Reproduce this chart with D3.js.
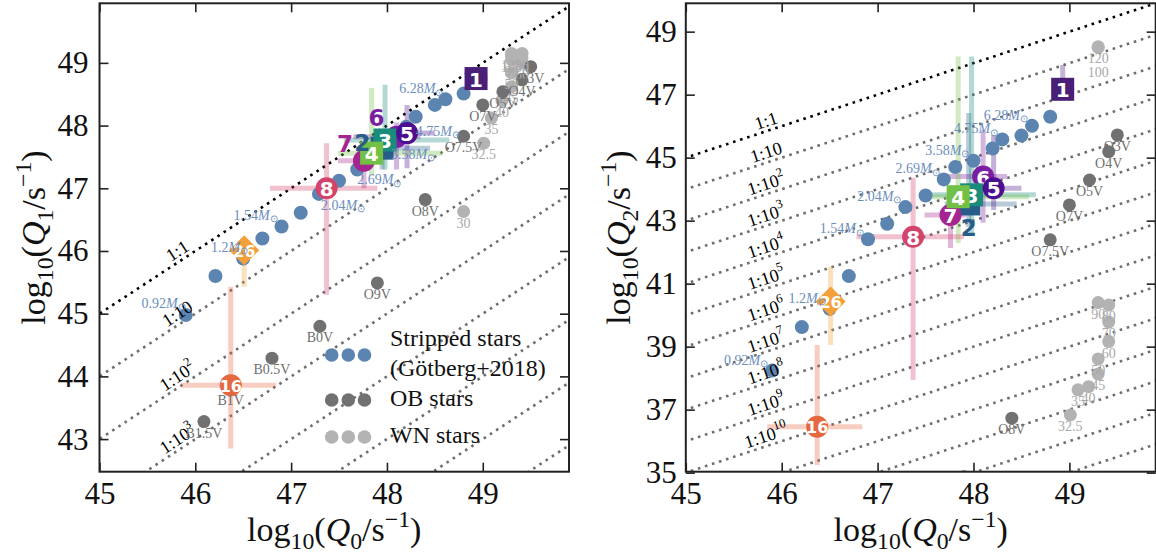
<!DOCTYPE html>
<html>
<head>
<meta charset="utf-8">
<script src="https://cdn.jsdelivr.net/npm/d3@7"></script>
<style>
  body { margin: 0; background: #fff; }
  svg { display: block; }
</style>
</head>
<body>
<svg id="chart" width="1156" height="557"></svg>
<script>
// ---------------- data ----------------
// Stripped-star model grid (Götberg+2018): log10 Q0, Q1, Q2 [s^-1]
const strippedQ0 = [45.90, 46.21, 46.50, 46.70, 46.90, 47.10, 47.29, 47.50, 47.69, 47.81, 48.00, 48.20, 48.30, 48.50, 48.61, 48.80];
const strippedQ1 = [44.98, 45.60, 45.88, 46.20, 46.39, 46.61, 46.91, 47.12, 47.30, 47.48, 47.72, 47.98, 48.14, 48.33, 48.42, 48.51];
const strippedQ2 = [38.24, 39.62, 40.20, 41.24, 42.41, 42.90, 43.43, 43.80, 44.31, 44.70, 44.90, 45.29, 45.58, 45.70, 46.01, 46.30];
const strippedMass = ["0.92", null, "1.2", null, "1.54", null, "2.04", null, "2.69", null, "3.58", null, "4.75", null, "6.28", null];

// OB main-sequence stars
const obTypes = ["O3V", "O4V", "O5V", "O7V", "O7.5V", "O8V", "O9V", "B0V", "B0.5V", "B1V", "B1.5V"];
const obQ0 = [49.50, 49.41, 49.21, 49.00, 48.80, 48.40, 47.90, 47.30, 46.80, 46.37, 46.09];
const obQ1 = [48.94, 48.73, 48.54, 48.33, 47.83, 46.82, 45.49, 44.80, 44.29, 43.80, 43.28];
const obQ2 = [45.72, 45.19, 44.29, 43.50, 42.39, 36.73, 34.87, null, null, null, null];

// WN stars, labelled by mass
const wnNames = ["120", "100", "90", "80", "70", "60", "50", "45", "40", "35", "32.5", "30"];
const wnQ0 = [49.30, 49.30, 49.30, 49.41, 49.41, 49.41, 49.30, 49.30, 49.20, 49.09, 49.01, 48.80];
const wnQ1 = [49.15, 49.12, 49.05, 49.15, 49.08, 49.00, 48.84, 48.62, 48.40, 48.12, 47.72, 46.63];
const wnQ2 = [48.52, 48.50, 40.40, 40.32, 39.78, 39.16, 38.61, 38.13, 37.73, 37.63, 36.83, null];

// Observed stripped-star candidates with uncertainties
const starIds  = ["1", "2", "3", "4", "5", "6", "7", "8", "16", "26"];
const starQ0   = [48.93, 47.95, 47.98, 47.84, 48.21, 48.10, 47.76, 47.37, 46.37, 46.51];
const starQ0lo = [48.82, 47.70, 47.55, 47.49, 47.95, 47.65, 47.49, 46.78, 45.85, null];
const starQ0hi = [49.05, 48.45, 48.65, 48.58, 48.50, 48.35, 47.92, 47.90, 46.84, null];
const starQ1   = [48.75, 47.64, 47.77, 47.56, 47.88, 47.82, 47.44, 47.00, 43.86, 46.01];
const starQ1lo = [48.62, 47.30, 47.30, 47.20, 47.32, 47.30, 47.00, 45.30, 42.85, 45.43];
const starQ1hi = [48.88, 47.90, 48.65, 48.60, 48.33, 48.05, 47.62, 47.72, 45.43, 46.10];
const starQ2   = [47.17, 43.53, 43.82, 43.76, 44.03, 44.40, 43.18, 42.49, 36.46, 40.43];
const starQ2lo = [46.83, 42.80, 42.60, 42.29, 43.34, 42.93, 42.13, 37.94, 35.24, 39.05];
const starQ2hi = [47.94, 46.42, 48.21, 48.21, 45.72, 45.88, 43.66, 44.36, 39.05, 41.54];

// Ratio lines Q_n : Q0 = 1 : 10^k
const ratioExponents = d3.range(0, 16);
const ratioLabelsLeft = [0, 1, 2, 3];
const ratioLabelsRight = [0, 1, 2, 3, 4, 5, 6, 7, 8, 9, 10];

const xTicks = [45, 46, 47, 48, 49];
const yTicksLeft = [43, 44, 45, 46, 47, 48, 49];
const yTicksRight = [35, 37, 39, 41, 43, 45, 47, 49];

const legendLabels = [["Stripped stars", "(Götberg+2018)"], ["OB stars"], ["WN stars"]];

// ---------------- styles ----------------
const serif = '"Liberation Serif", "Times New Roman", serif';
const sans = '"DejaVu Sans", sans-serif';
const blue = "#5b84b1", blueText = "#6a8ebe";
const obGrey = "#717171", wnGrey = "#b3b3b3";
const starColor = ["#4a1f78", "#285d8a", "#1a8c7c", "#72c046", "#4c0f90", "#7a1fa2", "#a6248f", "#d4436b", "#e5683f", "#f3a03a"];
const starShape = ["square", "square", "square", "square", "circle", "circle", "circle", "circle", "circle", "diamond"];

const svg = d3.select("#chart");

// text with sub/superscripts and italics
function rich(sel, parts, size) {
  let cur = 0;
  parts.forEach(p => {
    const target = p.s === "sub" ? 0.24 * size : p.s === "sup" ? -0.42 * size : 0;
    const ts = sel.append("tspan").text(p.t)
      .attr("dy", (target - cur).toFixed(2))
      .style("font-size", (p.s ? 0.7 * size : size) + "px");
    if (p.i) ts.style("font-style", "italic");
    cur = target;
  });
}

function drawPanel(cfg) {
  const x = d3.scaleLinear().domain(cfg.xDomain).range(cfg.xRange);
  const y = d3.scaleLinear().domain(cfg.yDomain).range(cfg.yRange);
  const g = svg.append("g");
  const clipId = "clip-" + cfg.id;
  svg.append("clipPath").attr("id", clipId).append("rect")
    .attr("x", cfg.xRange[0]).attr("y", cfg.yRange[1])
    .attr("width", cfg.xRange[1] - cfg.xRange[0])
    .attr("height", cfg.yRange[0] - cfg.yRange[1]);
  const plot = g.append("g").attr("clip-path", `url(#${clipId})`);

  // ratio lines
  const line = d3.line().x(d => x(d[0])).y(d => y(d[1]));
  ratioExponents.forEach(k => {
    plot.append("path")
      .attr("d", line([[43, 43 - k], [52, 52 - k]]))
      .attr("fill", "none")
      .attr("stroke", k === 0 ? "#000" : "#6e6e6e")
      .attr("stroke-width", 2.6)
      .attr("stroke-dasharray", "2.6 4.8");
  });
  const angle = Math.atan((y(45) - y(46)) / (x(46) - x(45))) * 180 / Math.PI;
  cfg.ratioLabels.forEach(k => {
    const q0 = 45.87;
    const t = g.append("text")
      .attr("transform", `translate(${x(q0)},${y(q0 - k)}) rotate(${-angle})`)
      .attr("y", -8)
      .attr("text-anchor", "middle")
      .attr("dominant-baseline", "middle")
      .style("font-family", serif).style("fill", "#000");
    if (k === 0) rich(t, [{ t: "1:1" }], 18);
    else if (k === 1) rich(t, [{ t: "1:10" }], 18);
    else rich(t, [{ t: "1:10" }, { t: String(k), s: "sup" }], 18);
  });

  const sQ = cfg.yKey === "Q1" ? strippedQ1 : strippedQ2;
  const oQ = cfg.yKey === "Q1" ? obQ1 : obQ2;
  const wQ = cfg.yKey === "Q1" ? wnQ1 : wnQ2;
  const tQ = cfg.yKey === "Q1" ? starQ1 : starQ2;
  const tLo = cfg.yKey === "Q1" ? starQ1lo : starQ2lo;
  const tHi = cfg.yKey === "Q1" ? starQ1hi : starQ2hi;

  // error bars
  const errOrder = [1, 6, 5, 4, 2, 3, 0, 7, 8, 9];
  errOrder.forEach(i => {
    const c = starColor[i];
    if (starQ0lo[i] !== null) {
      plot.append("line")
        .attr("x1", x(starQ0lo[i])).attr("x2", x(starQ0hi[i]))
        .attr("y1", y(tQ[i])).attr("y2", y(tQ[i]))
        .attr("stroke", c).attr("stroke-opacity", 0.33).attr("stroke-width", 5);
    }
    if (tLo[i] !== null) {
      plot.append("line")
        .attr("x1", x(starQ0[i])).attr("x2", x(starQ0[i]))
        .attr("y1", y(tLo[i])).attr("y2", y(tHi[i]))
        .attr("stroke", c).attr("stroke-opacity", 0.33).attr("stroke-width", 5);
    }
  });

  // stripped-star models
  plot.selectAll(null).data(strippedQ0).join("circle")
    .attr("cx", d => x(d)).attr("cy", (d, i) => y(sQ[i]))
    .attr("r", 7).attr("fill", blue);

  strippedQ0.forEach((q0, i) => {
    if (!strippedMass[i]) return;
    const o = cfg.massOffsets[i];
    const t = g.append("text")
      .attr("x", x(q0) + o[1]).attr("y", y(sQ[i]) + o[2])
      .attr("text-anchor", o[0])
      .attr("dominant-baseline", "middle")
      .style("font-family", serif).style("fill", blueText);
    rich(t, [{ t: strippedMass[i] }, { t: "M", i: true }, { t: "⊙", s: "sub" }], 14);
  });

  // WN stars: points then labels
  wnQ0.forEach((q0, i) => {
    if (wQ[i] === null) return;
    plot.append("circle").attr("cx", x(q0)).attr("cy", y(wQ[i])).attr("r", 6.5).attr("fill", wnGrey);
  });
  wnQ0.forEach((q0, i) => {
    if (wQ[i] === null) return;
    g.append("text").attr("x", x(q0)).attr("y", y(wQ[i]) + cfg.wnDy[i])
      .attr("text-anchor", "middle").attr("dominant-baseline", "middle")
      .style("font-family", serif).style("font-size", "14px").style("fill", "#a8a8a8")
      .text(wnNames[i]);
  });

  // OB stars: each point followed by its label
  obQ0.forEach((q0, i) => {
    if (oQ[i] === null) return;
    plot.append("circle").attr("cx", x(q0)).attr("cy", y(oQ[i])).attr("r", 6.5).attr("fill", obGrey);
    if (y(oQ[i]) < cfg.yRange[0] - 5) {
      g.append("text").attr("x", x(q0)).attr("y", y(oQ[i]) + 13)
        .attr("text-anchor", "middle").attr("dominant-baseline", "middle")
        .style("font-family", serif).style("font-size", "14px").style("fill", "#6f6f6f")
        .text(obTypes[i]);
    }
  });

  // observed stars
  const markOrder = [1, 6, 5, 2, 3, 4, 0, 7, 8, 9];
  markOrder.forEach(i => {
    const cx = x(starQ0[i]), cy = y(tQ[i]), c = starColor[i];
    const m = plot.append("g").attr("transform", `translate(${cx},${cy})`);
    if (starShape[i] === "square") {
      m.append("rect").attr("x", -11.5).attr("y", -11.5).attr("width", 23).attr("height", 23).attr("fill", c);
    } else if (starShape[i] === "circle") {
      m.append("circle").attr("r", 11).attr("fill", c);
    } else {
      m.append("path").attr("d", "M0,-15L15,0L0,15L-15,0Z").attr("fill", c);
    }
    const off = cfg.starLabelOffsets[i];
    if (!off) {
      m.append("text").attr("text-anchor", "middle").attr("dominant-baseline", "central")
        .attr("y", 1)
        .style("font-family", sans).style("font-weight", "bold")
        .style("font-size", starIds[i].length > 1 ? "16px" : "20px")
        .style("fill", "#fff").text(starIds[i]);
    }
  });
  markOrder.forEach(i => {
    const off = cfg.starLabelOffsets[i];
    if (!off) return;
    g.append("text")
      .attr("x", x(starQ0[i]) + off[0]).attr("y", y(tQ[i]) + off[1])
      .attr("text-anchor", "middle").attr("dominant-baseline", "central")
      .style("font-family", sans).style("font-weight", "bold").style("font-size", "23px")
      .style("fill", starColor[i]).text(starIds[i]);
  });

  // frame and inward ticks on all sides
  const axStyle = a => {
    a.select(".domain").remove();
    a.selectAll(".tick line").attr("stroke", "#222").attr("stroke-width", 1.6);
    a.selectAll(".tick text").style("font-family", serif).style("font-size", "31px").style("fill", "#111");
  };
  g.append("g").attr("transform", `translate(0,${cfg.yRange[0]})`)
    .call(d3.axisBottom(x).tickValues(xTicks).tickSize(-9).tickPadding(10).tickFormat(d3.format("d"))).call(axStyle);
  g.append("g").attr("transform", `translate(0,${cfg.yRange[1]})`)
    .call(d3.axisTop(x).tickValues(xTicks).tickSize(-9).tickFormat("")).call(axStyle);
  g.append("g").attr("transform", `translate(${cfg.xRange[0]},0)`)
    .call(d3.axisLeft(y).tickValues(cfg.yTicks).tickSize(-9).tickPadding(cfg.yPad).tickFormat(d3.format("d"))).call(axStyle);
  g.append("g").attr("transform", `translate(${cfg.xRange[1]},0)`)
    .call(d3.axisRight(y).tickValues(cfg.yTicks).tickSize(-9).tickFormat("")).call(axStyle);
  g.append("rect")
    .attr("x", cfg.xRange[0]).attr("y", cfg.yRange[1])
    .attr("width", cfg.xRange[1] - cfg.xRange[0]).attr("height", cfg.yRange[0] - cfg.yRange[1])
    .attr("fill", "none").attr("stroke", "#222").attr("stroke-width", 2);

  // axis titles
  const xl = g.append("text")
    .attr("x", (cfg.xRange[0] + cfg.xRange[1]) / 2).attr("y", 541)
    .attr("text-anchor", "middle").style("font-family", serif).style("fill", "#111");
  rich(xl, [{ t: "log" }, { t: "10", s: "sub" }, { t: "(" }, { t: "Q", i: true }, { t: "0", s: "sub" }, { t: "/s" }, { t: "−1", s: "sup" }, { t: ")" }], 34);
  const yl = g.append("text")
    .attr("transform", `translate(${cfg.yTitleX},${(cfg.yRange[0] + cfg.yRange[1]) / 2}) rotate(-90)`)
    .attr("text-anchor", "middle").style("font-family", serif).style("fill", "#111");
  rich(yl, [{ t: "log" }, { t: "10", s: "sub" }, { t: "(" }, { t: "Q", i: true }, { t: cfg.yKey.slice(1), s: "sub" }, { t: "/s" }, { t: "−1", s: "sup" }, { t: ")" }], 34);

  return { g, x, y };
}

// left panel: Q1 vs Q0
const left = drawPanel({
  id: "q1", yKey: "Q1",
  xDomain: [45, 49.9], xRange: [99.5, 569],
  yDomain: [42.48, 49.95], yRange: [471.7, 3.3],
  yTicks: yTicksLeft, yPad: 11, yTitleX: 45,
  ratioLabels: ratioLabelsLeft,
  massOffsets: [["end", 0, -10], null, ["end", 5, -10], null, ["end", -4, -10], null,
                ["start", 2, 13], null, ["start", 0, 12], null, ["start", 4, 13], null,
                ["start", 0, 16], null, ["end", -2, -9], null],
  wnDy: [13, 13, 13, 13, 13, 13, 13, 13, 13, 13, 13, 13],
  starLabelOffsets: [null, [-20, -5.5], null, null, null, [-20, -18.5], [-19, -17], null, null, null]
});

// right panel: Q2 vs Q0
drawPanel({
  id: "q2", yKey: "Q2",
  xDomain: [45, 49.9], xRange: [685.8, 1155.7],
  yDomain: [35.03, 49.9], yRange: [471.7, 3.3],
  yTicks: yTicksRight, yPad: 9, yTitleX: 630,
  ratioLabels: ratioLabelsRight,
  massOffsets: strippedMass.map(m => m ? ["end", -4, -9] : null),
  wnDy: [13, 26, 13, 13, 13, 13, 13, 13, 13, 13, 13, 13],
  starLabelOffsets: [null, [0, 24], null, null, null, null, null, null, null, null]
});

// legend (left panel)
const legendColors = [blue, obGrey, wnGrey];
const legendRowY = [355, 400, 437];
legendLabels.forEach((lines, r) => {
  [331.7, 348.3, 364.5].forEach(cx => {
    left.g.append("circle").attr("cx", cx).attr("cy", legendRowY[r]).attr("r", 6.8).attr("fill", legendColors[r]);
  });
  lines.forEach((s, j) => {
    const yy = lines.length === 2 ? legendRowY[r] - 15 + j * 30 : legendRowY[r];
    left.g.append("text").attr("x", 390).attr("y", yy)
      .attr("dominant-baseline", "middle")
      .style("font-family", serif).style("font-size", "24px").style("fill", "#111")
      .text(s);
  });
});
</script>
</body>
</html>
